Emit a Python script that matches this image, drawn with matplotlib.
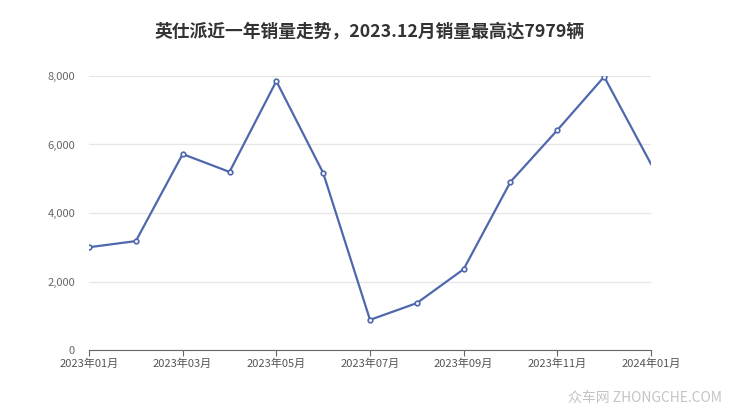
import numpy as np
import matplotlib.pyplot as plt

plt.rcParams['font.family'] = ['Noto Sans CJK SC', 'DejaVu Sans']

months = ['2023年01月', '2023年02月', '2023年03月', '2023年04月', '2023年05月', '2023年06月',
          '2023年07月', '2023年08月', '2023年09月', '2023年10月', '2023年11月', '2023年12月',
          '2024年01月']
sales = [3000, 3180, 5720, 5200, 7850, 5170, 880, 1370, 2360, 4910, 6420, 7979, 5430]
yticks = [0, 2000, 4000, 6000, 8000]
title = '英仕派近一年销量走势，2023.12月销量最高达7979辆'

fig = plt.figure(figsize=(7.4, 4.17), dpi=100)
ax = fig.add_axes([89/740, 67/417, 562/740, 274/417])

x = np.arange(len(months))
ax.plot(x, sales, color='#4f68ad', lw=1.6, zorder=3)
ax.scatter(x[:-1], sales[:-1], s=11, facecolor='white', edgecolor='#4f68ad', lw=1.2, zorder=4)

ax.set_xlim(0, len(months) - 1)
ax.set_ylim(0, 8000)
ax.set_yticks(yticks)
ax.set_yticklabels([f'{v:,}' for v in yticks])
ax.set_xticks(x[::2])
ax.set_xticklabels(months[::2])
ax.tick_params(axis='y', length=0, pad=10, labelsize=8, labelcolor='#666666')
ax.tick_params(axis='x', length=4, color='#666666', pad=2, labelsize=8, labelcolor='#555555')
ax.grid(axis='y', color='#e6e6e6', lw=0.9)
ax.set_axisbelow(True)
for s in ['top', 'right', 'left']:
    ax.spines[s].set_visible(False)
ax.spines['bottom'].set_color('#666666')

fig.text(0.5, 1 - 31/417, title, ha='center', va='center', fontsize=12.8,
         fontweight='bold', color='#333333')
fig.text(0.975, 1 - 398/417, '众车网 ZHONGCHE.COM', ha='right', va='center',
         fontsize=10, color='#c4c4c4')

fig.savefig('out.png', dpi=100)
